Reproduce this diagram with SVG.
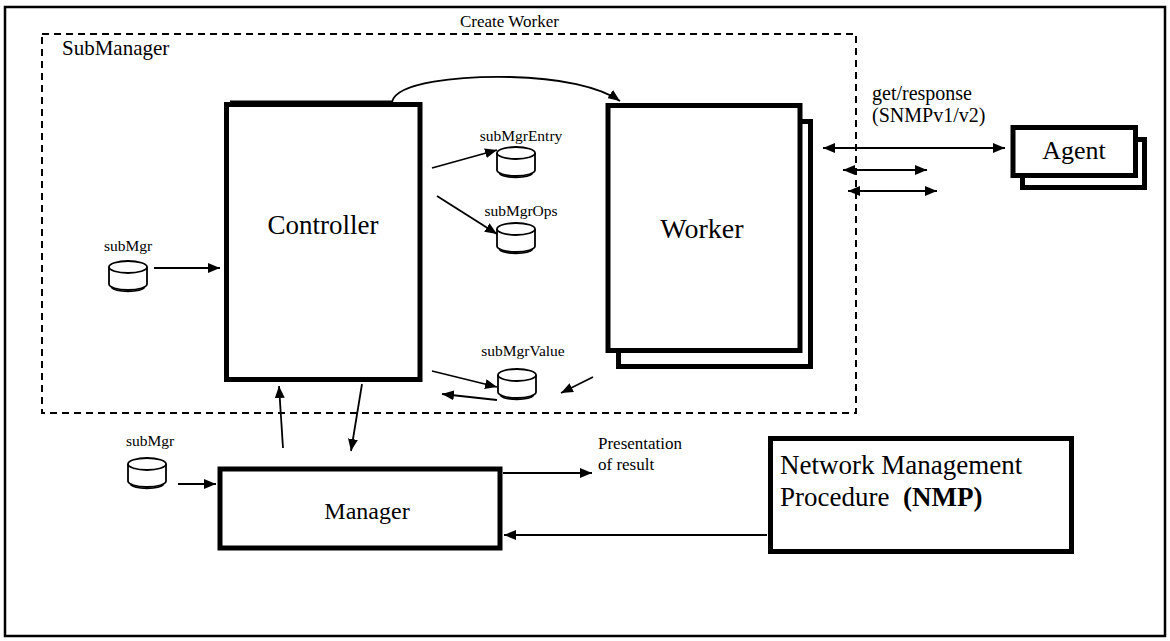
<svg xmlns="http://www.w3.org/2000/svg" width="1170" height="641" viewBox="0 0 1170 641">
<style>
text{font-family:"Liberation Serif","Times New Roman",serif;fill:#000}
.big{font-size:27px}
.mid{font-size:20px}
.lab{font-size:17px}
.sm{font-size:15.5px}
.box{fill:#fff;stroke:#000;stroke-width:5}
.cyl{fill:#fff;stroke:#000;stroke-width:1.8}
.ln{fill:none;stroke:#000;stroke-width:1.8}
</style>
<defs>
<marker id="ah" markerUnits="userSpaceOnUse" markerWidth="12" markerHeight="10" viewBox="0 0 12 10" refX="12" refY="5" orient="auto-start-reverse">
<path d="M0,0 L12,5 L0,10 z" fill="#000"/>
</marker>
<g id="db">
<path class="cyl" d="M0,6 V23 A19,6 0 0 0 38,23 V6"/>
<ellipse class="cyl" cx="19" cy="6" rx="19" ry="6"/>
<path class="ln" d="M2.5,26.5 A17,5 0 0 0 35.5,26.5"/>
</g>
</defs>
<rect x="0" y="0" width="1170" height="641" fill="#fff"/>
<g id="frame">
<rect x="5" y="7" width="1160" height="629" fill="none" stroke="#000" stroke-width="2.5"/>
</g>
<g id="submanager">
<rect x="42" y="34" width="814" height="379" fill="none" stroke="#000" stroke-width="2" stroke-dasharray="7 5"/>
<text x="62" y="55" style="font-size:21px">SubManager</text>
</g>
<g id="subMgr-top">
<text x="128" y="251" class="sm" text-anchor="middle">subMgr</text>
<use href="#db" x="109" y="261"/>
</g>
<g id="controller">
<line x1="230" y1="101.5" x2="392" y2="101.5" stroke="#000" stroke-width="2"/>
<rect class="box" x="226.5" y="104.5" width="193.5" height="275"/>
<text x="323" y="234" class="big" text-anchor="middle">Controller</text>
</g>
<g id="subMgrEntry">
<text x="521" y="141" class="sm" text-anchor="middle">subMgrEntry</text>
<use href="#db" x="497" y="147"/>
</g>
<g id="subMgrOps">
<text x="521" y="216" class="sm" text-anchor="middle">subMgrOps</text>
<use href="#db" x="497" y="223"/>
</g>
<g id="subMgrValue">
<text x="523" y="356" class="sm" text-anchor="middle">subMgrValue</text>
<use href="#db" x="498" y="369"/>
</g>
<g id="worker">
<rect class="box" x="618.5" y="121.5" width="192" height="245"/>
<rect class="box" x="608" y="105.5" width="192" height="245"/>
<text x="702" y="238" style="font-size:28px" text-anchor="middle">Worker</text>
</g>
<g id="agent">
<rect class="box" x="1022.5" y="139.5" width="122" height="48"/>
<rect class="box" x="1013" y="127.5" width="122.5" height="48"/>
<text x="1074" y="159" style="font-size:26px" text-anchor="middle">Agent</text>
</g>
<g id="manager">
<rect class="box" x="220" y="469" width="280" height="79"/>
<text x="367" y="519" style="font-size:24px" text-anchor="middle">Manager</text>
</g>
<g id="subMgr-bottom">
<text x="150" y="446" class="sm" text-anchor="middle">subMgr</text>
<use href="#db" x="128" y="458"/>
</g>
<g id="nmp">
<rect class="box" x="770.5" y="438.5" width="301" height="113"/>
<text x="780" y="474" class="big">Network Management</text>
<text x="780" y="506" class="big">Procedure&#160; <tspan font-weight="bold">(NMP)</tspan></text>
</g>
<g id="labels">
<text x="460" y="27" class="lab">Create Worker</text>
<text x="872" y="100" class="mid">get/response</text>
<text x="872" y="122" class="mid">(SNMPv1/v2)</text>
<text x="598" y="449" class="lab">Presentation</text>
<text x="598" y="470" class="lab">of result</text>
</g>
<g id="connectors">
<path class="ln" d="M392,102 C396,82 460,76 510,77 C560,78 600,87 620,101" marker-end="url(#ah)"/>
<line class="ln" x1="154" y1="268" x2="220" y2="268" marker-end="url(#ah)"/>
<line class="ln" x1="432" y1="168" x2="497" y2="150" marker-end="url(#ah)"/>
<line class="ln" x1="437" y1="196" x2="497" y2="234" marker-end="url(#ah)"/>
<line class="ln" x1="432" y1="371" x2="497" y2="387" marker-end="url(#ah)"/>
<line class="ln" x1="497" y1="400" x2="442" y2="394" marker-end="url(#ah)"/>
<line class="ln" x1="593" y1="377" x2="561" y2="393" marker-end="url(#ah)"/>
<line class="ln" x1="823" y1="148" x2="1005" y2="148" marker-start="url(#ah)" marker-end="url(#ah)"/>
<line class="ln" x1="843" y1="170" x2="927" y2="170" marker-start="url(#ah)" marker-end="url(#ah)"/>
<line class="ln" x1="848" y1="191" x2="937" y2="191" marker-start="url(#ah)" marker-end="url(#ah)"/>
<line class="ln" x1="283" y1="448" x2="279" y2="386" marker-end="url(#ah)"/>
<line class="ln" x1="362" y1="384" x2="351" y2="451" marker-end="url(#ah)"/>
<line class="ln" x1="178" y1="484" x2="216" y2="484" marker-end="url(#ah)"/>
<line class="ln" x1="503" y1="473" x2="592" y2="473" marker-end="url(#ah)"/>
<line class="ln" x1="767" y1="535" x2="504" y2="535" marker-end="url(#ah)"/>
</g>
</svg>
